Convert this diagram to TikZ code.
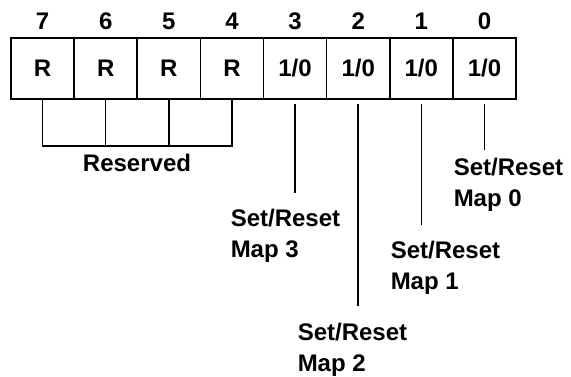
\documentclass[tikz,border=0pt]{standalone}
\usepackage{fontspec}
\setmainfont{Liberation Sans}
\usetikzlibrary{positioning}
\tikzset{
  bitcell/.style={draw,minimum width=63.1pt,minimum height=61pt,inner sep=0pt},
  bitlabel/.style={align=left,anchor=north west,inner sep=0pt},
}
\begin{document}
\begin{tikzpicture}[x=1pt,y=-1pt,line width=1.5pt,font=\fontsize{24}{31}\selectfont\bfseries]
  \useasboundingbox (0,0) rectangle (571,376);
  \def\cellw{63.125}
  % register cells, bit 7 on the left
  \foreach \b in {7,...,0} {
    \pgfmathsetmacro\cx{11+\cellw*(7.5-\b)}
    \node[bitcell] (b\b) at (\cx,68.5) {\ifnum\b>3 R\else 1/0\fi};
    \node (n\b) at (\cx,21) {\b};
  }
  % reserved bits 7..4 joined by a bracket
  \draw (b7.south) -- ++(0,46) -| (b4.south);
  \draw (b6.south) -- ++(0,46) (b5.south) -- ++(0,46);
  \node (rsv) at (137,163) {Reserved};
  % set/reset map labels with their leader lines
  \foreach \b/\lx/\ly/\gap in {3/230/208/15, 2/297/322/16, 1/390/240/15, 0/453/157/7} {
    \node[bitlabel] (m\b) at (\lx,\ly) {Set/Reset\\Map \b};
    \draw[shorten <=4pt,shorten >=\gap pt] (b\b.south) -- (b\b.south |- m\b.north);
  }
\end{tikzpicture}
\end{document}
